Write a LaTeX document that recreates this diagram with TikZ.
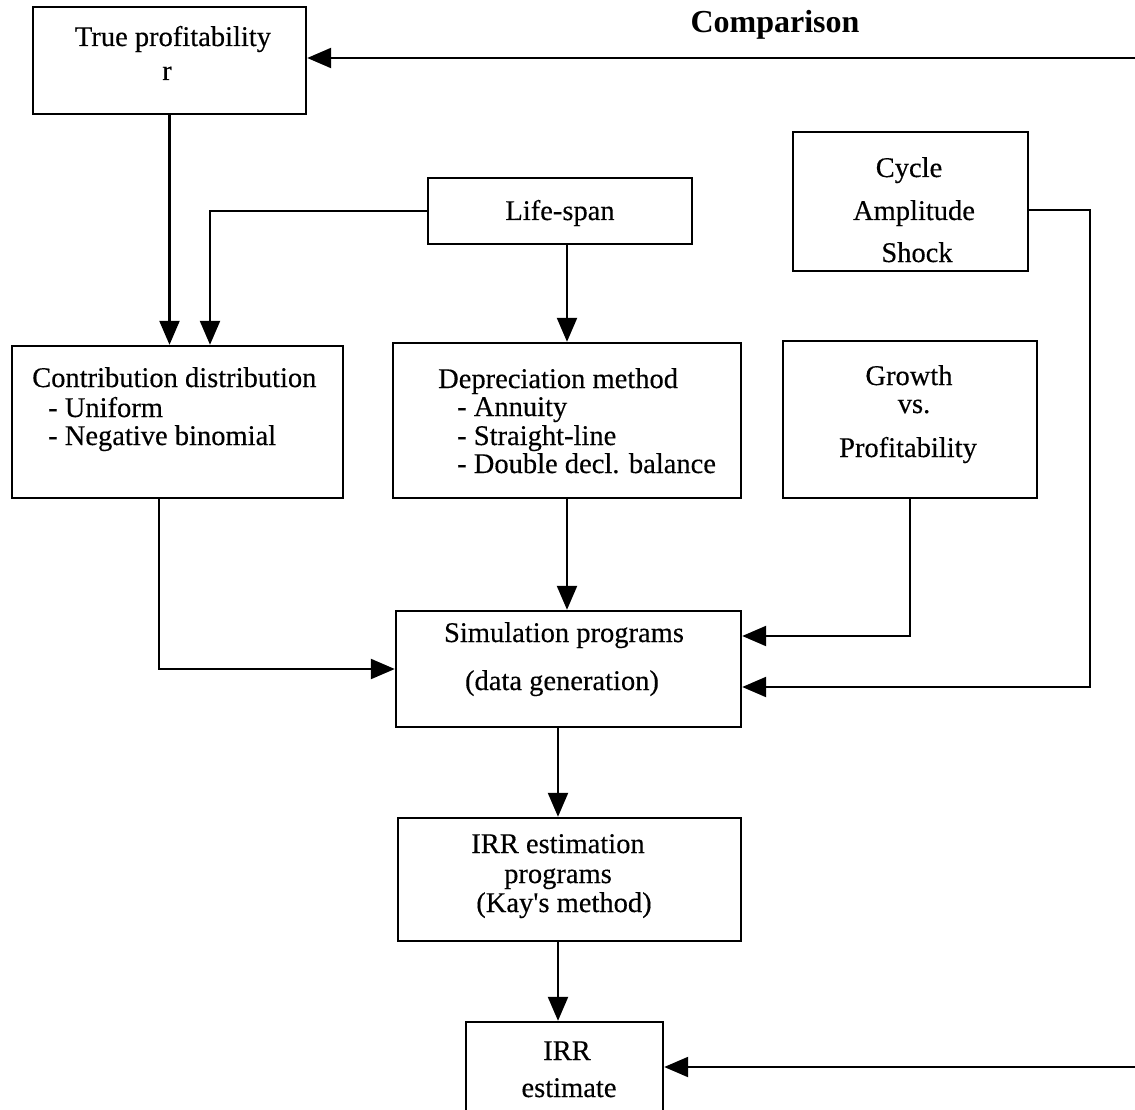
\documentclass[tikz,border=0pt]{standalone}
\usepackage{fontspec}
\setmainfont{Liberation Serif}[UprightFeatures={FakeBold=0.35}]
\usetikzlibrary{arrows.meta}
\newcommand\txtsize{\fontsize{28.5}{30}\selectfont}
\newcommand\cmpsize{\fontsize{32}{34}\selectfont\bfseries}
\begin{document}
\begin{tikzpicture}[x=1pt,y=-1pt,
  box/.style={draw, line width=2.4pt, rectangle, inner sep=0pt},
  txt/.style={font=\txtsize, inner sep=0pt},
  arr/.style={line width=2.3pt, -{Triangle[length=24pt,width=20pt]}}]
\clip (0,0) rectangle (1135,1110);
\useasboundingbox (0,0) rectangle (1135,1110);

% boxes
\node[box, minimum width=273pt, minimum height=107pt] (TP) at (169.5,60.5) {};
\node[box, minimum width=264pt, minimum height=66pt] (LS) at (560,211) {};
\node[box, minimum width=235pt, minimum height=139pt] (CY) at (910.5,201.5) {};
\node[box, minimum width=331pt, minimum height=152pt] (CD) at (177.5,422) {};
\node[box, minimum width=348pt, minimum height=155pt] (DM) at (567,420.5) {};
\node[box, minimum width=254pt, minimum height=157pt] (GP) at (910,419.5) {};
\node[box, minimum width=345pt, minimum height=116pt] (SP) at (568.5,669) {};
\node[box, minimum width=343pt, minimum height=123pt] (IE) at (569.5,879.5) {};
\node[box, minimum width=197pt, minimum height=110pt] (IRR) at (564.5,1077) {};

% texts
\node[txt, anchor=base, font=\cmpsize] (cmp) at (775,33) {Comparison};
\node[txt, anchor=base] (tp1) at (173,46) {True profitability};
\node[txt, anchor=base] (tp2) at (167,80) {r};
\node[txt, anchor=base] (ls1) at (560,220) {Life-span};
\node[txt, anchor=base] (cy1) at (909,177) {Cycle};
\node[txt, anchor=base] (cy2) at (914,220) {Amplitude};
\node[txt, anchor=base] (cy3) at (917,262) {Shock};
\node[txt, anchor=base west] (cd1) at (32,387) {Contribution distribution};
\node[txt, anchor=base west] (cd2) at (48,417) {- Uniform};
\node[txt, anchor=base west] (cd3) at (48,445) {- Negative binomial};
\node[txt, anchor=base west] (dm1) at (438,388) {Depreciation method};
\node[txt, anchor=base west] (dm2) at (457,416) {- Annuity};
\node[txt, anchor=base west] (dm3) at (457,445) {- Straight-line};
\node[txt, anchor=base west] (dm4) at (457,473) {- Double decl. balance};
\node[txt, anchor=base] (gp1) at (909,385) {Growth};
\node[txt, anchor=base] (gp2) at (914,413) {vs.};
\node[txt, anchor=base] (gp3) at (908,457) {Profitability};
\node[txt, anchor=base] (sp1) at (564,642) {Simulation programs};
\node[txt, anchor=base] (sp2) at (562,690) {(data generation)};
\node[txt, anchor=base] (ie1) at (558,853) {IRR estimation};
\node[txt, anchor=base] (ie2) at (558,883) {programs};
\node[txt, anchor=base] (ie3) at (564,912) {(Kay\textquotesingle s method)};
\node[txt, anchor=base] (ir1) at (567,1060) {IRR};
\node[txt, anchor=base] (ir2) at (569,1097) {estimate};

% free ends / bends
\coordinate (cmpR) at (1140,58);
\coordinate (irrR) at (1140,1067);
\coordinate (cyc) at (1090,687);

% connectors
\draw[arr] (cmpR) -- (cmpR -| TP.east);
\draw[arr] (TP.south) -- (TP.south |- CD.north);
\draw[arr] (LS.west) -| ([xshift=32.5pt]CD.north);
\draw[arr] (LS.south -| DM.north) -- (DM.north);
\draw[arr] ([xshift=-18.5pt]CD.south) |- (SP.west);
\draw[arr] (DM.south) -- (DM.south |- SP.north);
\draw[arr] (GP.south) |- ([yshift=33pt]SP.east);
\draw[arr] ([yshift=-8.5pt]CY.east) -| (cyc) -- (cyc -| SP.east);
\draw[arr] (SP.south -| ie2) -- (ie2 |- IE.north);
\draw[arr] (IE.south -| ie2) -- (ie2 |- IRR.north);
\draw[arr] (irrR) -- (irrR -| IRR.east);
\end{tikzpicture}
\end{document}
